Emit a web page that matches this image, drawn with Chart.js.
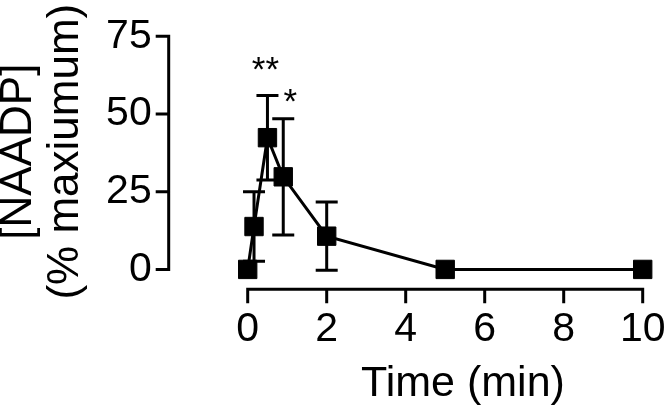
<!DOCTYPE html>
<html><head><meta charset="utf-8">
<script src="https://cdn.jsdelivr.net/npm/chart.js@4/dist/chart.umd.min.js"></script>
<style>html,body{margin:0;padding:0;background:#fff;} #wrap{width:666px;height:406px;}</style>
</head><body><div id="wrap"><canvas id="c" width="666" height="406"></canvas></div>
<script>
const timeMin = [0, 0.16, 0.5, 0.9, 2, 5, 10];
const naadpPct = [0, 13.8, 42.4, 29.8, 10.7, 0, 0];
const naadpSem = [0, 11.2, 13.6, 18.7, 11.0, 0, 0];
const significance = ['', '', '**', '*', '', '', ''];
const xTickValues = [0, 2, 4, 6, 8, 10];
const yTickValues = [0, 25, 50, 75];
const xTitle = 'Time (min)';
const yTitle = ['[NAADP]', '(% maxiumum)'];

const FONT = '"Liberation Sans", Arial, Helvetica, sans-serif';

const decor = {
  id: 'decor',
  beforeDatasetsDraw(chart) {
    const {ctx, chartArea, scales: {x, y}} = chart;
    ctx.save();
    ctx.strokeStyle = '#000';
    ctx.lineWidth = 3;
    ctx.lineCap = 'butt';
    const ax = chartArea.left;
    const yTop = y.getPixelForValue(yTickValues[yTickValues.length - 1]);
    const yBot = y.getPixelForValue(yTickValues[0]);
    ctx.beginPath();
    ctx.moveTo(ax, yTop - 1.5);
    ctx.lineTo(ax, yBot + 1.5);
    yTickValues.forEach(v => {
      const py = y.getPixelForValue(v);
      ctx.moveTo(ax - 13, py);
      ctx.lineTo(ax, py);
    });
    ctx.stroke();
    const ay = chartArea.bottom;
    const xL = x.getPixelForValue(xTickValues[0]);
    const xR = x.getPixelForValue(xTickValues[xTickValues.length - 1]);
    ctx.beginPath();
    ctx.moveTo(xL - 1.5, ay);
    ctx.lineTo(xR + 1.5, ay);
    xTickValues.forEach(v => {
      const px = x.getPixelForValue(v);
      ctx.moveTo(px, ay);
      ctx.lineTo(px, ay + 14);
    });
    ctx.stroke();
    ctx.beginPath();
    timeMin.forEach((t, i) => {
      const e = naadpSem[i];
      if (!e) return;
      const px = x.getPixelForValue(t);
      const pt = y.getPixelForValue(naadpPct[i] + e);
      const pb = y.getPixelForValue(naadpPct[i] - e);
      ctx.moveTo(px, pt); ctx.lineTo(px, pb);
      ctx.moveTo(px - 11, pt); ctx.lineTo(px + 11, pt);
      ctx.moveTo(px - 11, pb); ctx.lineTo(px + 11, pb);
    });
    ctx.stroke();
    ctx.restore();
  },
  afterDraw(chart) {
    const {ctx, scales: {x, y}} = chart;
    ctx.save();
    ctx.fillStyle = '#000';
    ctx.font = '35px ' + FONT;
    ctx.textAlign = 'center';
    ctx.textBaseline = 'alphabetic';
    significance.forEach((s, i) => {
      if (!s) return;
      const px = x.getPixelForValue(timeMin[i]);
      const pt = y.getPixelForValue(naadpPct[i] + naadpSem[i]);
      if (s.length > 1) ctx.fillText(s, px - 2, pt - 14);
      else ctx.fillText(s, px + 7, pt - 6);
    });
    ctx.font = '43px ' + FONT;
    ctx.fillText(xTitle, x.getPixelForValue(5.45), chart.height - 10);
    ctx.restore();
  }
};

new Chart(document.getElementById('c'), {
  type: 'line',
  data: {
    datasets: [{
      data: timeMin.map((t, i) => ({x: t, y: naadpPct[i]})),
      borderColor: '#000',
      backgroundColor: '#000',
      borderWidth: 3,
      tension: 0,
      clip: false,
      pointStyle: 'rect',
      pointRadius: 13,
      pointBorderWidth: 1,
      pointBackgroundColor: '#000',
      pointBorderColor: '#000'
    }]
  },
  options: {
    responsive: false,
    devicePixelRatio: 1,
    animation: false,
    layout: {padding: {left: 0, right: 23.3, top: 7, bottom: 0}},
    plugins: {legend: {display: false}, tooltip: {enabled: false}},
    scales: {
      x: {
        type: 'linear',
        min: -2, max: 10,
        grid: {display: false, drawTicks: false},
        border: {display: false},
        ticks: {
          color: '#000', font: {family: FONT, size: 41}, padding: 16,
          maxRotation: 0, autoSkip: false, callback: v => String(v)
        },
        afterBuildTicks: s => { s.ticks = xTickValues.map(v => ({value: v})); },
        afterFit: s => { s.height = 116.7; s.paddingLeft = 0; s.paddingRight = 0; }
      },
      y: {
        type: 'linear',
        min: -6.4, max: 82.2,
        grid: {display: false, drawTicks: false},
        border: {display: false},
        ticks: {
          color: '#000', font: {family: FONT, size: 41}, padding: 17,
          autoSkip: false, callback: v => String(v)
        },
        title: {
          display: true, text: yTitle, color: '#000',
          font: {family: FONT, size: 44, lineHeight: 1.07},
          padding: {top: -5, bottom: 0}
        },
        afterBuildTicks: s => { s.ticks = yTickValues.map(v => ({value: v})); },
        afterFit: s => { s.width = 168.7; s.paddingTop = 0; s.paddingBottom = 0; }
      }
    }
  },
  plugins: [decor]
});
</script>
</body></html>
